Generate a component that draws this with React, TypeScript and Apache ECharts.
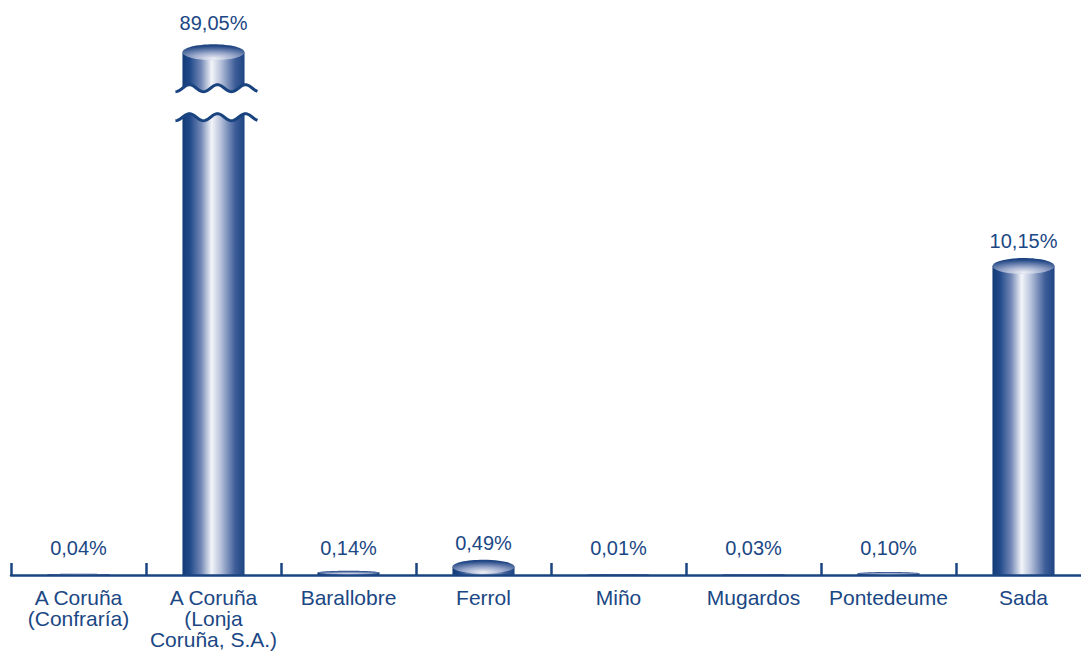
import React, { useEffect, useRef } from "react";
import * as echarts from "echarts";

const categories = [
  "A Coruña\n(Confraría)",
  "A Coruña\n(Lonja\nCoruña, S.A.)",
  "Barallobre",
  "Ferrol",
  "Miño",
  "Mugardos",
  "Pontedeume",
  "Sada",
];
const values = [0.04, 89.05, 0.14, 0.49, 0.01, 0.03, 0.1, 10.15];
const BREAK_CAP = 17.0; // value at which tall bars are cut and drawn with a break
const Y_MAX = 18;

const NAVY = "#1b4784";
const FONT = '20px "Liberation Sans", Arial, Helvetica, sans-serif';

function fmt(v: number) {
  return v.toFixed(2).replace(".", ",") + "%";
}

const bodyGradient = {
  type: "linear",
  x: 0,
  y: 0,
  x2: 1,
  y2: 0,
  colorStops: [
    { offset: 0, color: "#113a76" },
    { offset: 0.12, color: "#21498a" },
    { offset: 0.3, color: "#7388b6" },
    { offset: 0.47, color: "#f3f5f9" },
    { offset: 0.62, color: "#b5c0da" },
    { offset: 0.85, color: "#3d5d98" },
    { offset: 1, color: "#1d4482" },
  ],
};

const topGradient = {
  type: "radial",
  x: 0.5,
  y: 0.9,
  r: 0.8,
  colorStops: [
    { offset: 0, color: "#eef0f6" },
    { offset: 0.45, color: "#9aa8cb" },
    { offset: 1, color: "#1f4583" },
  ],
};

function wavePoints(x0: number, x1: number, cy: number) {
  const pts: number[][] = [];
  const P = 28;
  const A = 3.5;
  for (let x = x0; x <= x1; x += 1) {
    pts.push([x, cy + A * Math.sin((2 * Math.PI * (x - x0)) / P + Math.PI / 2)]);
  }
  return pts;
}

export default function App() {
  const ref = useRef<HTMLDivElement>(null);
  useEffect(() => {
    if (!ref.current) return;
    const chart = echarts.init(ref.current, undefined, { renderer: "svg" });
    const data = values.map((v, i) => [i, Math.min(v, BREAK_CAP), v, v > BREAK_CAP ? 1 : 0]);

    const renderItem = (params: any, api: any) => {
      const idx = api.value(0);
      const disp = api.value(1);
      const trueVal = api.value(2);
      const broken = api.value(3) === 1;
      const top = api.coord([idx, disp]);
      const base = api.coord([idx, 0]);
      const band = api.size([1, 0])[0];
      const w = band * 0.46;
      const cx = top[0];
      const left = cx - w / 2;
      const topY = top[1];
      const baseY = base[1];
      const h = baseY - topY;
      const ry = Math.min(8, h / 2.2);
      const ecy = topY + ry;
      const children: any[] = [];
      if (h > 0.2) {
        children.push({
          type: "rect",
          shape: { x: left, y: ecy, width: w, height: Math.max(0, baseY - ecy) },
          style: { fill: bodyGradient },
        });
        children.push({
          type: "ellipse",
          shape: { cx, cy: ecy, rx: w / 2, ry: Math.max(ry, 0.6) },
          style: { fill: topGradient },
        });
      }
      if (broken) {
        const y1 = topY + 44;
        const y2 = topY + 73;
        const wx0 = left - 7;
        const wx1 = left + w + 13;
        const tw = wavePoints(wx0, wx1, y1);
        const bw = wavePoints(wx0, wx1, y2);
        children.push({
          type: "polygon",
          shape: { points: tw.concat(bw.slice().reverse()) },
          style: { fill: "#ffffff" },
        });
        children.push({
          type: "polyline",
          shape: { points: tw },
          style: { stroke: "#1a4480", lineWidth: 3, fill: null },
        });
        children.push({
          type: "polyline",
          shape: { points: bw },
          style: { stroke: "#1a4480", lineWidth: 3, fill: null },
        });
      }
      const labelY = broken ? topY - 21 : Math.min(topY - 17, baseY - 27);
      children.push({
        type: "text",
        style: {
          text: fmt(trueVal),
          x: cx,
          y: labelY,
          fill: NAVY,
          font: FONT,
          align: "center",
          verticalAlign: "middle",
          textAlign: "center",
          textVerticalAlign: "middle",
        },
      });
      return { type: "group", children };
    };

    chart.setOption({
      animation: false,
      backgroundColor: "#ffffff",
      grid: { left: 11, width: 1080, top: 13, height: 562, outerBoundsMode: "none", containLabel: false },
      xAxis: {
        type: "category",
        data: categories,
        boundaryGap: true,
        axisLine: { show: true, lineStyle: { color: "#1a4480", width: 2.5 } },
        axisTick: {
          show: true,
          inside: true,
          length: 12,
          alignWithLabel: false,
          lineStyle: { color: "#1a4480", width: 2.5 },
        },
        axisLabel: {
          interval: 0,
          color: NAVY,
          fontSize: 21,
          lineHeight: 21,
          fontFamily: '"Liberation Sans", Arial, Helvetica, sans-serif',
          margin: 12,
        },
        z: 10,
      },
      yAxis: {
        type: "value",
        min: 0,
        max: Y_MAX,
        show: false,
        splitLine: { show: false },
      },
      series: [
        {
          type: "custom",
          renderItem,
          data,
          clip: false,
          encode: { x: 0, y: 1 },
        },
      ],
    });
    return () => chart.dispose();
  }, []);
  return (
    <div
      ref={ref}
      style={{ position: "fixed", left: 0, top: 0, width: 1081, height: 652 }}
    />
  );
}
